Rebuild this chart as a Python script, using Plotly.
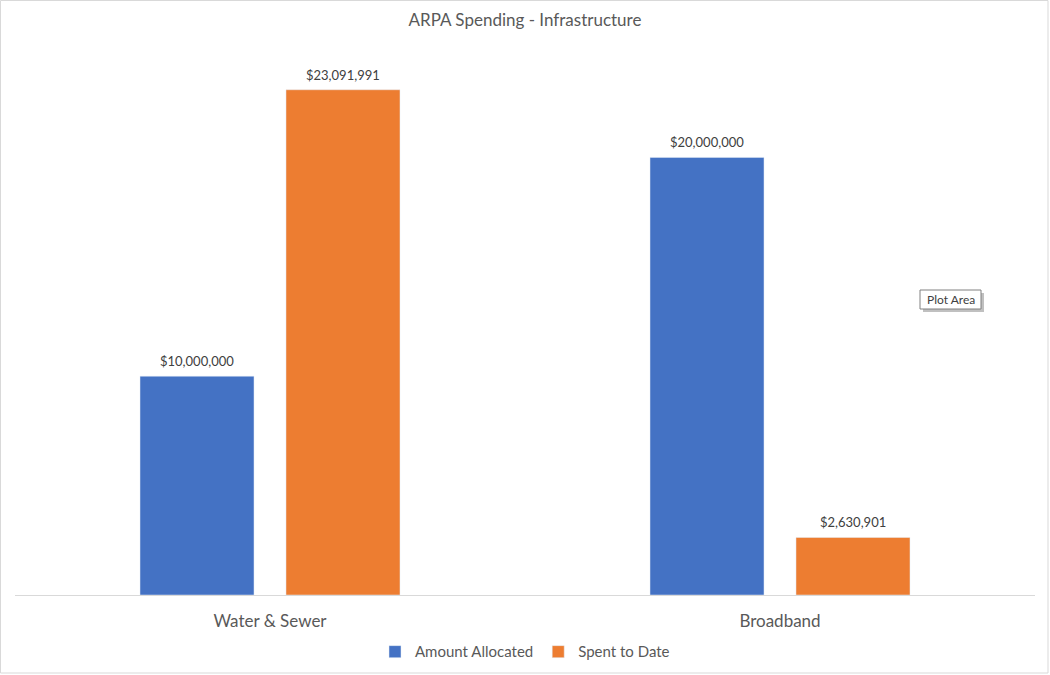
import plotly.graph_objects as go

categories = ["Water & Sewer", "Broadband"]
allocated = [10000000, 20000000]
spent = [23091991, 2630901]

font = "Lato, 'Noto Sans', sans-serif"
K = 680 / 675  # the page comes out slightly squashed vertically

fig = go.Figure()
fig.add_trace(go.Bar(x=categories, y=allocated, name="Amount Allocated",
                     marker_color="#4472C4"))
fig.add_trace(go.Bar(x=categories, y=spent, name="Spent to Date",
                     marker_color="#ED7D31"))

# data labels above each bar
for shift, vals in [(-73, allocated), (73, spent)]:
    for cat, v in zip(categories, vals):
        fig.add_annotation(x=cat, y=v, xshift=shift, yshift=5 * K, yanchor="bottom",
                           text="$" + f"{v:,}", showarrow=False,
                           font=dict(size=13, color="#404040"))

fig.update_layout(
    width=1050, height=680,
    margin=dict(l=15, r=15, t=48 * K, b=80 * K),
    paper_bgcolor="white", plot_bgcolor="white",
    font=dict(family=font, color="#595959"),
    title=dict(text="ARPA Spending - Infrastructure", x=0.5, xanchor="center",
               y=1 - 20 / 675, yanchor="middle", font=dict(size=17, color="#595959")),
    barmode="group", bargap=0.4275, bargroupgap=0.219,
    showlegend=True,
    legend=dict(orientation="h", x=0.5, xanchor="center", y=-0.104, yanchor="middle",
                font=dict(size=15, color="#595959")),
)
fig.update_xaxes(showline=True, linecolor="#d9d9d9", linewidth=1, ticks="",
                 tickfont=dict(size=17, color="#595959"), ticklabelstandoff=11,
                 showgrid=False)
fig.update_yaxes(range=[0, 25000000], showticklabels=False, showgrid=False,
                 zeroline=False, visible=False)


def px(x):
    return (x - 15) / 1020


def py(y):
    return (595 - y) / 547


# chart border
fig.add_shape(type="rect", xref="paper", yref="paper",
              x0=px(0.5), x1=px(1048), y0=py(673), y1=py(0.5),
              line=dict(color="#d9d9d9", width=1), fillcolor="rgba(0,0,0,0)", layer="below")

# "Plot Area" tooltip with shadow
fig.add_shape(type="rect", xref="paper", yref="paper",
              x0=px(923), x1=px(984), y0=py(312), y1=py(293),
              line=dict(width=0), fillcolor="#c0c0c0", layer="above")
fig.add_shape(type="rect", xref="paper", yref="paper",
              x0=px(920), x1=px(981), y0=py(309), y1=py(290),
              line=dict(color="#808080", width=1), fillcolor="white", layer="above")
fig.add_annotation(text="Plot Area", xref="paper", yref="paper",
                   x=px(950.5), y=py(299.5), xanchor="center", yanchor="middle",
                   showarrow=False, font=dict(size=12, color="#404040"))

fig.write_html("out.html", config={"displayModeBar": False},
               post_script="document.body.style.margin='0';"
                           "document.body.style.overflow='hidden';")
